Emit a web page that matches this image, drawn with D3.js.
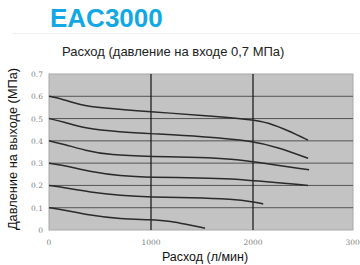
<!DOCTYPE html>
<html>
<head>
<meta charset="utf-8">
<script src="https://cdn.jsdelivr.net/npm/d3@7"></script>
<style>
body { margin: 0; background: #fff; }
svg { display: block; }
</style>
</head>
<body>
<svg id="chart" width="360" height="265"></svg>
<script>
var xTicks = [0, 1000, 2000, 3000];
var yTicks = [0, 0.1, 0.2, 0.3, 0.4, 0.5, 0.6, 0.7];
var yTickLabels = ['0', '0.1', '0.2', '0.3', '0.4', '0.5', '0.6', '0.7'];
var vLines = [1000, 2000];
// outlet pressure curves, [flow l/min, MPa]
var curve06 = [[0,0.6],[150,0.585],[300,0.562],[500,0.548],[1000,0.53],[1500,0.515],[2000,0.495],[2150,0.482],[2350,0.445],[2540,0.403]];
var curve05 = [[0,0.5],[150,0.485],[350,0.455],[700,0.44],[1000,0.432],[1500,0.42],[2000,0.4],[2250,0.37],[2540,0.322]];
var curve04 = [[0,0.4],[150,0.385],[350,0.357],[600,0.336],[1000,0.33],[1500,0.326],[1800,0.318],[2000,0.307],[2550,0.27]];
var curve03 = [[0,0.3],[200,0.285],[400,0.262],[700,0.242],[1000,0.236],[1500,0.234],[1800,0.23],[2000,0.222],[2540,0.2]];
var curve02 = [[0,0.2],[150,0.19],[400,0.17],[700,0.155],[1000,0.147],[1400,0.146],[1800,0.138],[2000,0.127],[2100,0.117]];
var curve01 = [[0,0.1],[150,0.09],[400,0.066],[700,0.049],[1000,0.047],[1200,0.04],[1350,0.025],[1530,0.008]];
var curves = [curve06, curve05, curve04, curve03, curve02, curve01];

var svg = d3.select("#chart");
var plotLeft = 49, plotRight = 355, plotTop = 74, plotBottom = 230;
var x = d3.scaleLinear().domain([0, 3000]).range([plotLeft, plotRight]);
var y = d3.scaleLinear().domain([0, 0.7]).range([plotBottom, plotTop]);

// title
svg.append("text")
	.attr("x", 50).attr("y", 27)
	.attr("font-family", "Liberation Sans, Arial, sans-serif")
	.attr("font-weight", "bold")
	.attr("font-size", 26)
	.attr("fill", "#12a8e6")
	.text("EAC3000");
svg.append("line")
	.attr("x1", 12).attr("x2", 360).attr("y1", 33.5).attr("y2", 33.5)
	.attr("stroke", "#f0f0f0");
svg.append("text")
	.attr("x", 62).attr("y", 56)
	.attr("font-family", "Liberation Sans, Arial, sans-serif")
	.attr("font-size", 13)
	.attr("fill", "#222")
	.text("Расход (давление на входе 0,7 МПа)");

// plot area
svg.append("rect")
	.attr("x", x(0)).attr("y", y(0.7))
	.attr("width", x(3000) - x(0) - 2).attr("height", y(0) - y(0.7))
	.attr("fill", "#c3c3c3")
	.attr("stroke", "#a8a8a8");

svg.selectAll(".hgrid").data(yTicks.slice(1, 7)).enter().append("line")
	.attr("x1", x(0)).attr("x2", x(3000) - 2)
	.attr("y1", function (d) { return y(d); })
	.attr("y2", function (d) { return y(d); })
	.attr("stroke", "#555")
	.attr("stroke-width", 1);

svg.selectAll(".vgrid").data(vLines).enter().append("line")
	.attr("x1", function (d) { return x(d); })
	.attr("x2", function (d) { return x(d); })
	.attr("y1", y(0.7)).attr("y2", y(0))
	.attr("stroke", "#111")
	.attr("stroke-width", 1.2);

var line = d3.line()
	.x(function (d) { return x(d[0]); })
	.y(function (d) { return y(d[1]); })
	.curve(d3.curveBasis);
svg.selectAll(".curve").data(curves).enter().append("path")
	.attr("d", line)
	.attr("fill", "none")
	.attr("stroke", "#2a2a2a")
	.attr("stroke-width", 1.5);

// tick labels
svg.selectAll(".ylab").data(yTicks).enter().append("text")
	.attr("x", 43)
	.attr("y", function (d) { return y(d) + 3; })
	.attr("text-anchor", "end")
	.attr("font-family", "DejaVu Serif, serif")
	.attr("font-size", 7.5)
	.attr("fill", "#808080")
	.text(function (d, i) { return yTickLabels[i]; });
svg.selectAll(".xlab").data(xTicks).enter().append("text")
	.attr("x", function (d) { return x(d); })
	.attr("y", 245)
	.attr("text-anchor", "middle")
	.attr("font-family", "DejaVu Serif, serif")
	.attr("font-size", 7.5)
	.attr("fill", "#808080")
	.text(function (d) { return d; });

// axis titles
svg.append("text")
	.attr("x", 205).attr("y", 261)
	.attr("text-anchor", "middle")
	.attr("font-family", "Liberation Sans, Arial, sans-serif")
	.attr("font-size", 12.5)
	.attr("fill", "#111")
	.text("Расход (л/мин)");
svg.append("text")
	.attr("transform", "translate(17,149) rotate(-90)")
	.attr("text-anchor", "middle")
	.attr("font-family", "Liberation Sans, Arial, sans-serif")
	.attr("font-size", 12.8)
	.attr("fill", "#111")
	.text("Давление на выходе (МПа)");
</script>
</body>
</html>
